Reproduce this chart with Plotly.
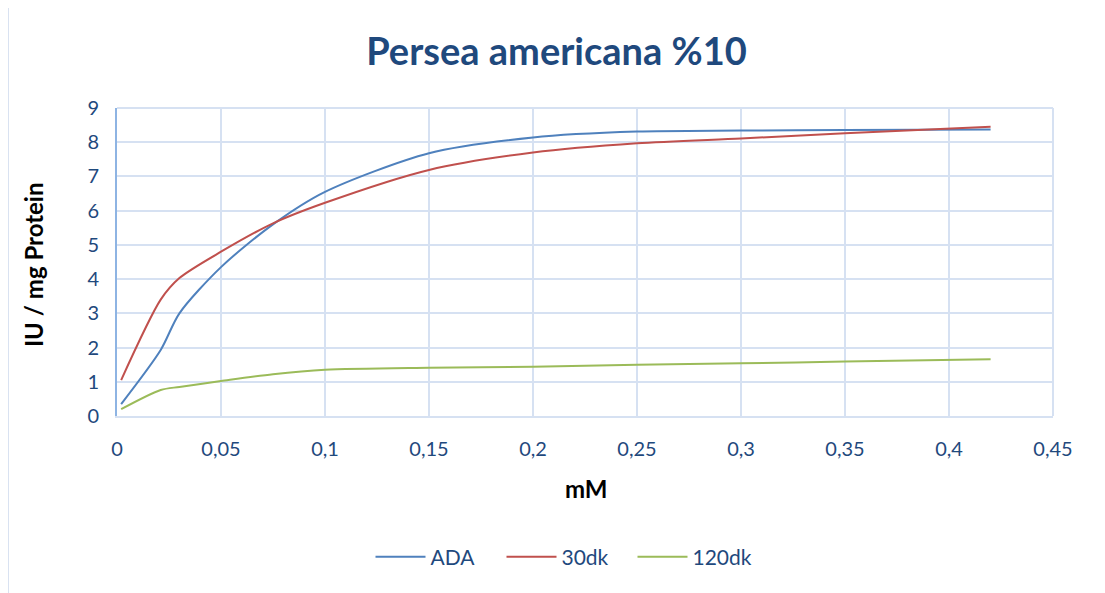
import plotly.graph_objects as go

x_mm = [0.002, 0.021, 0.03, 0.05, 0.075, 0.1, 0.15, 0.2, 0.25, 0.3, 0.35, 0.42]
ada = [0.35, 1.93, 3.0, 4.35, 5.6, 6.55, 7.68, 8.14, 8.31, 8.34, 8.36, 8.37]
dk30 = [1.05, 3.4, 4.03, 4.8, 5.63, 6.23, 7.19, 7.7, 7.97, 8.11, 8.26, 8.45]
dk120 = [0.2, 0.76, 0.85, 1.02, 1.22, 1.35, 1.41, 1.44, 1.5, 1.54, 1.59, 1.66]

series_names = ["ADA", "30dk", "120dk"]
series_colors = ["#4F81BD", "#C0504D", "#9BBB59"]

x_ticks = [0, 0.05, 0.1, 0.15, 0.2, 0.25, 0.3, 0.35, 0.4, 0.45]
x_labels = ["0", "0,05", "0,1", "0,15", "0,2", "0,25", "0,3", "0,35", "0,4", "0,45"]
y_ticks = [0, 1, 2, 3, 4, 5, 6, 7, 8, 9]

FONT = "Lato"
TXT = "#1F497D"
GRID = "#D6E1F2"

# page has an 8px body margin; plot area target in page pixels: x 117..1053, y 108..416
OFF = 8
W, H = 1105 - OFF, 593 - OFF


def px_x(px):
    return (px - 117) / 936


def px_y(py):
    return (416 - py) / 308


fig = go.Figure()
for name, ys, col in zip(series_names, [ada, dk30, dk120], series_colors):
    fig.add_trace(go.Scatter(x=x_mm, y=ys, name=name, mode="lines",
                             line=dict(color=col, width=2, shape="spline", smoothing=0.8)))

fig.update_layout(
    width=W, height=H,
    margin=dict(l=117 - OFF, r=1105 - 1053, t=108 - OFF, b=593 - 416),
    paper_bgcolor="white", plot_bgcolor="white",
    font=dict(family=FONT, color=TXT, size=20),
    title=dict(text="<b>Persea americana %10</b>", x=0.5, xanchor="center",
               y=1 - (52 - OFF) / H, yanchor="middle",
               font=dict(family=FONT, size=38, color=TXT)),
    showlegend=True,
    legend=dict(orientation="h", x=px_x(567), xanchor="center", y=px_y(557), yanchor="middle",
                font=dict(family=FONT, size=21, color=TXT), itemwidth=50,
                entrywidth=66, entrywidthmode="pixels",
                bgcolor="rgba(0,0,0,0)"),
    xaxis=dict(range=[0, 0.45], tickvals=x_ticks, ticktext=x_labels,
               showgrid=True, gridcolor=GRID, gridwidth=2,
               showline=True, linecolor=GRID, linewidth=2, mirror=False,
               zeroline=False, ticks="", ticklabelstandoff=14,
               tickfont=dict(family=FONT, size=20, color=TXT)),
    yaxis=dict(range=[0, 9], tickvals=y_ticks,
               showgrid=True, gridcolor=GRID, gridwidth=2,
               showline=True, linecolor="#8EB4E3", linewidth=2,
               zeroline=False, ticks="", ticklabelstandoff=12,
               tickfont=dict(family=FONT, size=20, color=TXT)),
    annotations=[
        dict(text="<b>mM</b>", xref="paper", yref="paper", x=px_x(586), y=px_y(488),
             showarrow=False, font=dict(family=FONT, size=24, color="black"),
             xanchor="center", yanchor="middle"),
        dict(text="<b>IU / mg Protein</b>", xref="paper", yref="paper",
             x=px_x(33), y=px_y(265), textangle=-90,
             showarrow=False, font=dict(family=FONT, size=24, color="black"),
             xanchor="center", yanchor="middle"),
    ],
    shapes=[
        dict(type="rect", xref="paper", yref="paper",
             x0=px_x(8), x1=px_x(1103), y0=px_y(620), y1=px_y(3),
             line=dict(color="#D9E2F1", width=2), fillcolor="rgba(0,0,0,0)", layer="below"),
        dict(type="line", xref="paper", yref="paper", x0=0, x1=1, y0=1, y1=1,
             line=dict(color=GRID, width=2), layer="below"),
        dict(type="line", xref="paper", yref="paper", x0=1, x1=1, y0=0, y1=1,
             line=dict(color=GRID, width=2), layer="below"),
    ],
)

fig.write_html("out.html")
